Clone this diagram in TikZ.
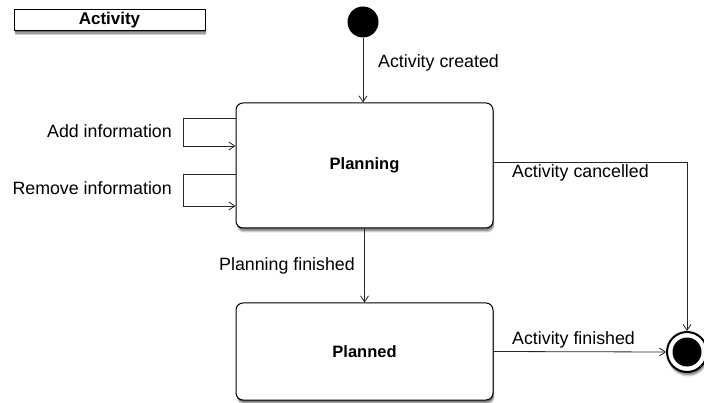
\documentclass[tikz,border=0pt]{standalone}
\usepackage{fontspec}
\setmainfont{Liberation Sans}
\usetikzlibrary{arrows.meta,shadows}
\begin{document}
\begin{tikzpicture}[x=1pt,y=-1pt,
  shade/.style={
    drop shadow={shadow xshift=1pt,shadow yshift=-4.5pt,opacity=0.18,fill=black},
    drop shadow={shadow xshift=1pt,shadow yshift=-3pt,opacity=0.25,fill=black},
    drop shadow={shadow xshift=0.5pt,shadow yshift=-1.5pt,opacity=0.3,fill=black}},
  state/.style={draw,line width=1pt,rounded corners=7pt,fill=white,shade},
  trans/.style={draw=black!85,line width=0.8pt,-{Straight Barb[length=6pt,width=8pt]}},
  lbl/.style={font=\fontsize{17.8}{20}\selectfont,inner sep=0pt},
  title/.style={font=\bfseries\fontsize{16.5}{19}\selectfont}]
\useasboundingbox (0,0) rectangle (704,403);

% title bar
\node[draw,line width=1pt,fill=white,minimum width=191pt,minimum height=21pt,inner sep=0pt,
  shade,font=\bfseries\fontsize{17}{19}\selectfont] (frame) at (109.5,20.5) {Activity};

% initial and final states
\node[circle,fill=black,minimum size=31pt,inner sep=0pt] (init) at (363,22) {};
\node[circle,draw,line width=2pt,fill=white,minimum size=40pt,inner sep=0pt,shade] (final) at (687,352) {};
\node[circle,fill=black,minimum size=29pt,inner sep=0pt] at (final) {};

% states
\node[state,minimum width=257pt,minimum height=125pt,title] (planning) at (364.5,165.5) {Planning};
\node[state,minimum width=257pt,minimum height=97pt,title] (planned) at (364.5,351.5) {Planned};

% coordinates for the routed connectors
\coordinate (addout) at (planning.west |- 0,118);
\coordinate (addin) at (planning.west |- 0,146);
\coordinate (remout) at (planning.west |- 0,174);
\coordinate (remin) at (planning.west |- 0,206);
\coordinate (cancel) at (planning.east |- 0,162);

% transitions
\draw[trans] (init) -- (init |- planning.north);
\node[lbl,anchor=west] at (378,63) {Activity created};

\draw[trans] (addout) -| (183,146) -- (addin);
\node[lbl,anchor=east] at (172,131) {Add information};
\draw[trans] (remout) -| (183,206) -- (remin);
\node[lbl,anchor=east] at (172,188) {Remove information};

\draw[trans] (planning.south) -- (planned.north);
\node[lbl,anchor=east] at (355,266) {Planning finished};

\draw[trans] (cancel) -| (final.north);
\node[lbl,anchor=west] at (512,173) {Activity cancelled};

\draw[trans] (planned.east) -- (final.west);
\node[lbl,anchor=west] at (512,340) {Activity finished};
\end{tikzpicture}
\end{document}
